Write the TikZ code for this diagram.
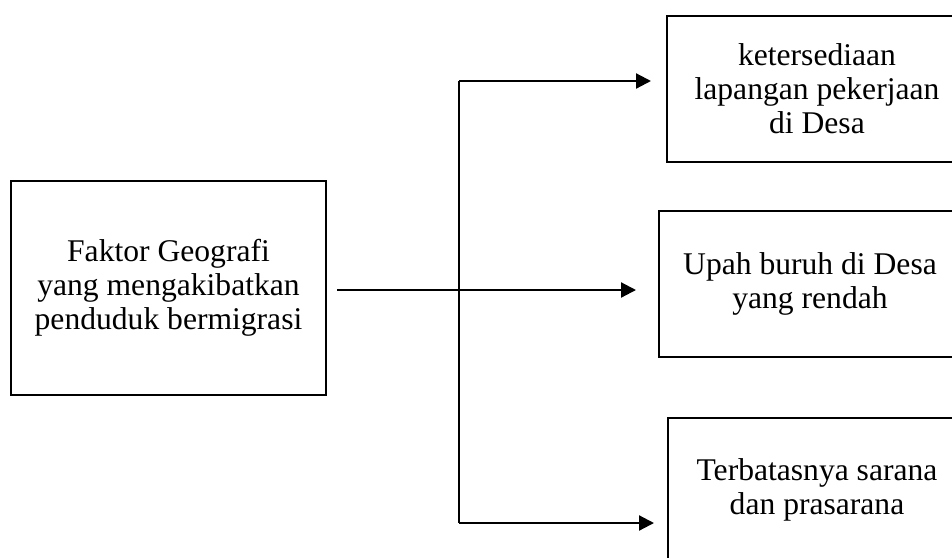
\documentclass[tikz,border=0pt]{standalone}
\usepackage{fontspec}
\setmainfont{Liberation Serif}
\usetikzlibrary{arrows.meta}
\begin{document}
\begin{tikzpicture}[x=1pt,y=-1pt,
  box/.style={draw=black, line width=2pt, align=center, inner sep=0pt,
    font=\fontsize{31.6}{34}\selectfont},
  arr/.style={line width=2.2pt, -{Triangle[length=15pt,width=15pt]}},
  trunk/.style={line width=1.1pt}]
\useasboundingbox (0,0) rectangle (952,557);
\clip (0,0) rectangle (952,557);
\node[box, minimum width=315pt, minimum height=214pt] (src) at (168.5,288)
  {Faktor Geografi\\yang mengakibatkan\\penduduk bermigrasi};
\node[box, minimum width=300pt, minimum height=146pt] (t1) at (817,89)
  {ketersediaan\\lapangan pekerjaan\\di Desa};
\node[box, minimum width=302pt, minimum height=146pt] (t2) at (810,284)
  {Upah buruh di Desa\\yang rendah};
\node[box, minimum width=298pt, minimum height=144pt] (t3) at (817,490)
  {Terbatasnya sarana\\dan prasarana};
\coordinate (top) at (459,81);
\coordinate (bot) at (459,523);
\coordinate (m1) at (337,290);
\draw[trunk] (top) -- (bot);
\draw[arr, shorten >=15pt] (top) -- (top -| t1.west);
\draw[arr, shorten >=22pt] (m1) -- (m1 -| t2.west);
\draw[arr, shorten >=13pt] (bot) -- (bot -| t3.west);
\end{tikzpicture}
\end{document}
